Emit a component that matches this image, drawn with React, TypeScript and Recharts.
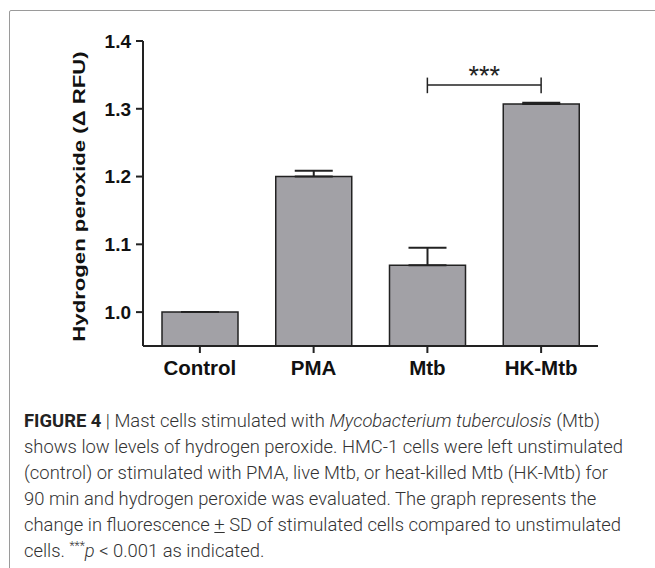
import React from 'react';
import { BarChart, Bar, XAxis, YAxis, ErrorBar, ReferenceLine } from 'recharts';

const categories = ['Control', 'PMA', 'Mtb', 'HK-Mtb'];
const means = [1.0, 1.2, 1.069, 1.307];
const sds = [0, 0.0085, 0.026, 0.002];
const yTicks = [1.0, 1.1, 1.2, 1.3, 1.4];
const yDomain = [0.95, 1.4];
const sigPair = ['Mtb', 'HK-Mtb'];
const sigLevels = [1.323, 1.335, 1.346]; // bracket: tick bottom, bar line, tick top
const sigLabel = '***';
const yLabel = 'Hydrogen peroxide (\u0394 RFU)';

const data = categories.map((c, i) => ({ name: c, value: means[i], err: [0, sds[i]] }));

const AXIS = '#222';
const SANS = '"Liberation Sans", Arial, Helvetica, sans-serif';

const YLabel = (props: any) => {
  const vb = props.viewBox || { x: 0, y: 0, width: 0, height: 0 };
  const cx = vb.x + 85;
  const cy = vb.y + vb.height / 2 + 3;
  return (
    <text
      transform={`translate(${cx},${cy}) rotate(-90) scale(1.385,1)`}
      textAnchor="middle"
      fontSize={16}
      fontWeight="bold"
      fill="#111"
      fontFamily={SANS}
    >
      {yLabel}
    </text>
  );
};

const captionStyle: React.CSSProperties = {
  position: 'absolute',
  left: 24,
  top: 408,
  fontFamily: 'Roboto, "Liberation Sans", Arial, sans-serif',
  fontWeight: 300,
  fontSize: 18.4,
  lineHeight: '26px',
  color: '#333',
  whiteSpace: 'nowrap',
};

export default function App() {
  return (
    <div style={{ position: 'fixed', left: 0, top: 0, width: 655, height: 568, overflow: 'hidden', background: '#fff' }}>
      <div
        style={{
          position: 'absolute',
          left: 9,
          top: 10,
          width: 700,
          height: 650,
          border: '1px solid #9a9a9a',
          borderTopLeftRadius: 2,
        }}
      />
      <div style={{ position: 'absolute', left: 0, top: 0 }}>
        <BarChart
          width={655}
          height={400}
          data={data}
          margin={{ top: 41, right: 57, bottom: 0, left: 0 }}
          style={{ fontFamily: SANS }}
        >
          <XAxis
            dataKey="name"
            interval={0}
            height={54}
            tickSize={7}
            tickMargin={7}
            axisLine={{ stroke: AXIS, strokeWidth: 2 }}
            tickLine={{ stroke: AXIS, strokeWidth: 2 }}
            tick={{ fill: '#111', fontSize: 20.5, fontWeight: 'bold' }}
          />
          <YAxis
            type="number"
            domain={yDomain}
            ticks={yTicks}
            allowDataOverflow
            width={143}
            tickSize={7}
            tickMargin={5}
            axisLine={{ stroke: AXIS, strokeWidth: 2 }}
            tickLine={{ stroke: AXIS, strokeWidth: 2 }}
            tick={{ fill: '#111', fontSize: 19, fontWeight: 'bold' }}
            tickFormatter={(v: number) => v.toFixed(1)}
            label={{ content: (p: any) => <YLabel {...p} /> }}
          />
          <Bar
            dataKey="value"
            fill="#a2a1a6"
            stroke="#222"
            strokeWidth={1.5}
            barSize={76}
            isAnimationActive={false}
          >
            <ErrorBar dataKey="err" direction="y" width={19} stroke="#222" strokeWidth={2} />
          </Bar>
          <ReferenceLine
            segment={[{ x: sigPair[0], y: sigLevels[1] }, { x: sigPair[1], y: sigLevels[1] }]}
            stroke="#222"
            strokeWidth={1.5}
            ifOverflow="visible"
            label={{ value: sigLabel, position: 'top', offset: 0, fontSize: 27, fill: '#222' }}
          />
          <ReferenceLine
            segment={[{ x: sigPair[0], y: sigLevels[0] }, { x: sigPair[0], y: sigLevels[2] }]}
            stroke="#222"
            strokeWidth={1.5}
            ifOverflow="visible"
          />
          <ReferenceLine
            segment={[{ x: sigPair[1], y: sigLevels[0] }, { x: sigPair[1], y: sigLevels[2] }]}
            stroke="#222"
            strokeWidth={1.5}
            ifOverflow="visible"
          />
        </BarChart>
      </div>
      <div style={captionStyle}>
        <div>
          <span style={{ fontWeight: 700, color: '#222' }}>FIGURE 4</span> | Mast cells stimulated with{' '}
          <i>Mycobacterium tuberculosis</i> (Mtb)
        </div>
        <div>shows low levels of hydrogen peroxide. HMC-1 cells were left unstimulated</div>
        <div>(control) or stimulated with PMA, live Mtb, or heat-killed Mtb (HK-Mtb) for</div>
        <div>90 min and hydrogen peroxide was evaluated. The graph represents the</div>
        <div>
          change in fluorescence <span style={{ textDecoration: 'underline' }}>+</span> SD of stimulated cells compared to unstimulated
        </div>
        <div>
          cells. <sup style={{ fontSize: 12, lineHeight: 0 }}>***</sup>
          <i>p</i> &lt; 0.001 as indicated.
        </div>
      </div>
    </div>
  );
}
